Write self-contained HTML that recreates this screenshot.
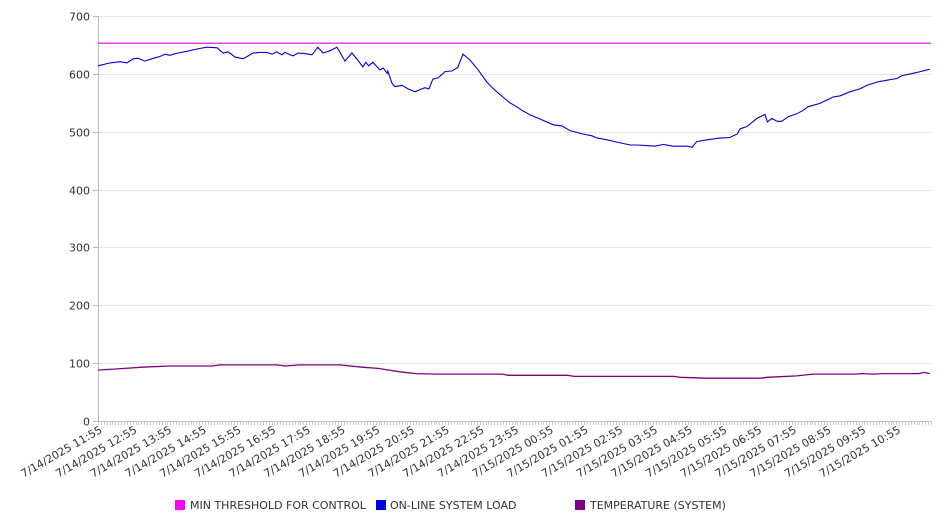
<!DOCTYPE html>
<html><head><meta charset="utf-8"><style>
body{margin:0;background:#fff;}
svg{display:block;font-family:"DejaVu Sans","Liberation Sans",sans-serif;}
</style></head><body>
<svg id="chart" width="946" height="526" viewBox="0 0 946 526" xmlns="http://www.w3.org/2000/svg">
<g id="grid"></g>
<g id="yaxis"></g>
<g id="xaxis"></g>
<g id="series"></g>
<g font-size="11" fill="#333">
  <g><rect x="175" y="500" width="10" height="10" fill="#ff00ff"/><text x="190" y="509">MIN THRESHOLD FOR CONTROL</text></g>
  <g><rect x="376" y="500" width="10" height="10" fill="#0000ee"/><text x="390" y="509">ON-LINE SYSTEM LOAD</text></g>
  <g><rect x="575" y="500" width="10" height="10" fill="#800080"/><text x="590" y="509">TEMPERATURE (SYSTEM)</text></g>
</g>
</svg>
<script>
const yTicks = [0,100,200,300,400,500,600,700];
const xLabels = ["7/14/2025 11:55","7/14/2025 12:55","7/14/2025 13:55","7/14/2025 14:55","7/14/2025 15:55","7/14/2025 16:55","7/14/2025 17:55","7/14/2025 18:55","7/14/2025 19:55","7/14/2025 20:55","7/14/2025 21:55","7/14/2025 22:55","7/14/2025 23:55","7/15/2025 00:55","7/15/2025 01:55","7/15/2025 02:55","7/15/2025 03:55","7/15/2025 04:55","7/15/2025 05:55","7/15/2025 06:55","7/15/2025 07:55","7/15/2025 08:55","7/15/2025 09:55","7/15/2025 10:55"];
const thresholdValue = 653;
const loadMinutes = [0,21,38,50,61,69,81,93,107,116,124,138,154,171,188,206,216,225,237,251,268,280,292,301,309,318,323,337,346,358,370,380,389,401,413,427,439,449,458,463,468,475,487,493,500,501,508,513,526,536,548,557,565,572,579,588,600,612,622,631,643,657,672,686,700,712,724,733,747,764,787,802,816,838,854,863,880,897,920,932,949,963,977,994,1018,1027,1035,1053,1075,1092,1105,1110,1122,1139,1153,1157,1165,1174,1182,1193,1208,1219,1227,1248,1271,1283,1300,1317,1329,1347,1364,1381,1390,1409,1426,1438];
const loadValues = [614,619,621,619,626,627,622,626,630,634,632,636,639,643,646,645,636,638,629,626,636,637,637,634,638,633,637,631,636,635,633,646,636,640,646,622,636,624,612,620,614,620,607,610,601,605,584,578,580,574,569,573,576,574,591,593,604,605,611,634,624,607,586,572,560,550,543,537,529,522,512,510,502,496,493,489,486,482,477,477,476,475,478,475,475,473,483,486,489,490,496,505,509,523,530,517,523,518,518,526,531,537,543,549,560,562,569,574,580,586,589,592,597,601,605,608];
const tempMinutes = [0,33,76,123,197,211,309,325,347,418,456,484,522,550,588,700,709,812,823,996,1006,1053,1146,1157,1208,1236,1310,1321,1340,1357,1419,1428,1438];
const tempValues = [88,90,93,95,95,97,97,95,97,97,93,91,85,82,81,81,79,79,77,77,75.5,74,74,75.5,78,81,81,82,81,82,82,84,82];

const NS="http://www.w3.org/2000/svg";
const X0=98,X1=931,Y0=421,Y1=16,TOTAL=1440,YMAX=700;
const xs=m=>X0+(m/TOTAL)*(X1-X0);
const ys=v=>Y0-(v/YMAX)*(Y0-Y1);
function mk(tag,attrs,parent){const e=document.createElementNS(NS,tag);for(const k in attrs)e.setAttribute(k,attrs[k]);parent.appendChild(e);return e;}
const grid=document.getElementById('grid'),yaxis=document.getElementById('yaxis'),xaxis=document.getElementById('xaxis'),series=document.getElementById('series');
yTicks.forEach(t=>{
  const y=Math.round(ys(t))+0.5;
  if(t>0){const g=mk('line',{x1:X0,x2:X1,y1:y,y2:y,stroke:'#e6e6e6'},grid);
  
  }
  mk('line',{x1:X0-5,x2:X0,y1:y,y2:y,stroke:'#bbb'},yaxis);
  const tx=mk('text',{x:X0-8,y:y+4,'text-anchor':'end','font-size':'11',fill:'#333'},yaxis);
  tx.textContent=t;
  
  
});
mk('line',{x1:X0+0.5,x2:X0+0.5,y1:Y1,y2:Y0,stroke:'#bbb'},yaxis);
mk('line',{x1:X0,x2:X1,y1:Y0+0.5,y2:Y0+0.5,stroke:'#bbb'},xaxis);
for(let m=0;m<=TOTAL;m+=5){const x=Math.round(xs(m))+0.5;mk('line',{x1:x,x2:x,y1:Y0,y2:Y0+4,stroke:'#ccc'},xaxis);}
xLabels.forEach((l,i)=>{
  const x=xs(i*60)+5,y=432;
  const tx=mk('text',{x:x,y:y,'text-anchor':'end','font-size':'11',fill:'#333',transform:'rotate(-30 '+x+' '+y+')'},xaxis);
  tx.textContent=l;
  
  
});
const th=mk('line',{x1:X0,x2:X1,y1:ys(thresholdValue),y2:ys(thresholdValue),stroke:'#dd00dd','stroke-width':1.2},series);


const lp=mk('polyline',{points:loadMinutes.map((m,i)=>xs(m).toFixed(1)+','+ys(loadValues[i]).toFixed(1)).join(' '),fill:'none',stroke:'#0000dd','stroke-width':1.1},series);


const tp=mk('polyline',{points:tempMinutes.map((m,i)=>xs(m).toFixed(1)+','+ys(tempValues[i]).toFixed(1)).join(' '),fill:'none',stroke:'#800080','stroke-width':1.3},series);


</script>
</body></html>
